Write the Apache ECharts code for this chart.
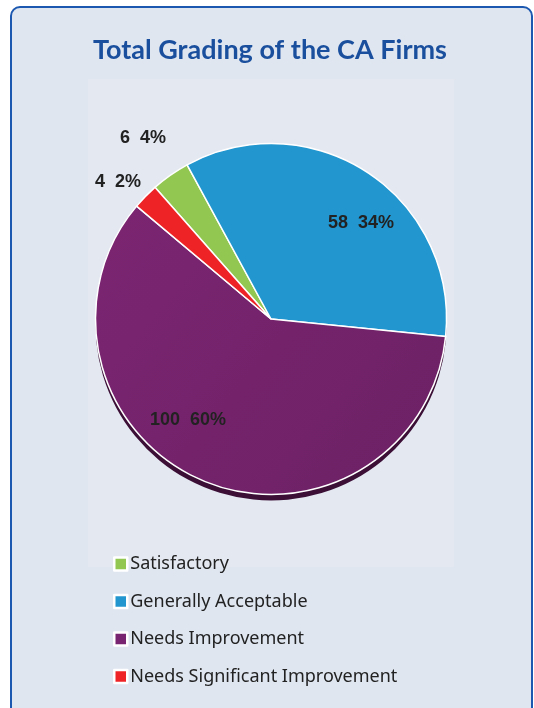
<!DOCTYPE html>
<html><head><meta charset="utf-8">
<script src="https://cdn.jsdelivr.net/npm/echarts@6/dist/echarts.min.js"></script>
<style>
html,body{margin:0;padding:0;background:#ffffff;width:534px;height:708px;overflow:hidden;}
#card{position:absolute;left:10px;top:6px;width:523px;height:730px;border:2.5px solid #1c58b0;border-radius:10px;background:#dfe6f0;box-sizing:border-box;}
#plot{position:absolute;left:88px;top:79px;width:366px;height:488px;background:#e3e8f1;}
#chart{position:absolute;left:0;top:0;width:534px;height:708px;}
</style></head>
<body>
<div id="card"></div>
<div id="plot"></div>
<div id="chart"></div>
<script>
const titleText = 'Total Grading of the CA Firms';
const categories = ['Satisfactory', 'Generally Acceptable', 'Needs Improvement', 'Needs Significant Improvement'];
const values = [6, 58, 100, 4];
const pctLabels = [4, 34, 60, 2];
const colors = ['#92c852', '#2196cf', '#782470', '#ee2326'];

const chart = echarts.init(document.getElementById('chart'), null, {renderer:'canvas'});
const CX = 271, CY = 319, R = 175.5;
const labelPos = ['outside','inside','inside','outside'];
const labelTargets = [[143,138],[361,223],[188,420],[118,182]];
const mainData = categories.map((c,i)=>({
  name:c, value:values[i],
  itemStyle:{color: i===2 ? new echarts.graphic.LinearGradient(0,0,1,1,[{offset:0,color:'#7c2572'},{offset:1,color:'#6c2164'}]) : colors[i]},
  label:{position:labelPos[i]}
}));
const shadowData = values.map((v,i)=>({name:categories[i], value:v}));

chart.setOption({
  animation:false,
  title:{text:titleText,left:88,top:32,textStyle:{fontFamily:'Lato',fontWeight:'bold',fontSize:27,color:'#1a4f9e'}},
  legend:{
    orient:'vertical', left:108, top:550,
    data:categories.map((c,i)=>({name:c,itemStyle:{color:colors[i],borderColor:'#ffffff',borderWidth:2.5}})),
    icon:'rect', itemWidth:13, itemHeight:13, itemGap:19.5,
    textStyle:{fontFamily:'Noto Sans',fontSize:18,color:'#222222',padding:[0,0,0,-2]}
  },
  series:[
    {
      type:'pie', silent:true, center:[CX,CY+6], radius:R,
      startAngle:131.4, clockwise:true,
      data:shadowData,
      itemStyle:{color:'#3b0f36',borderWidth:0},
      label:{show:false}, labelLine:{show:false}, z:1
    },
    {
      type:'pie', center:[CX,CY], radius:R,
      startAngle:131.4, clockwise:true, avoidLabelOverlap:false,
      data:mainData,
      itemStyle:{borderColor:'#ffffff',borderWidth:1.5},
      label:{
        show:true, fontFamily:'Liberation Sans', fontWeight:'bold', fontSize:18, color:'#222222',
        formatter:(p)=>p.value+'  '+pctLabels[p.dataIndex]+'%'
      },
      labelLine:{show:false,length:10,length2:0},
      labelLayout:(p)=>{
        const t=labelTargets[p.dataIndex];
        return {x:t[0],y:t[1],align:'center',verticalAlign:'middle'};
      },
      z:2
    }
  ]
});
</script>
</body></html>
